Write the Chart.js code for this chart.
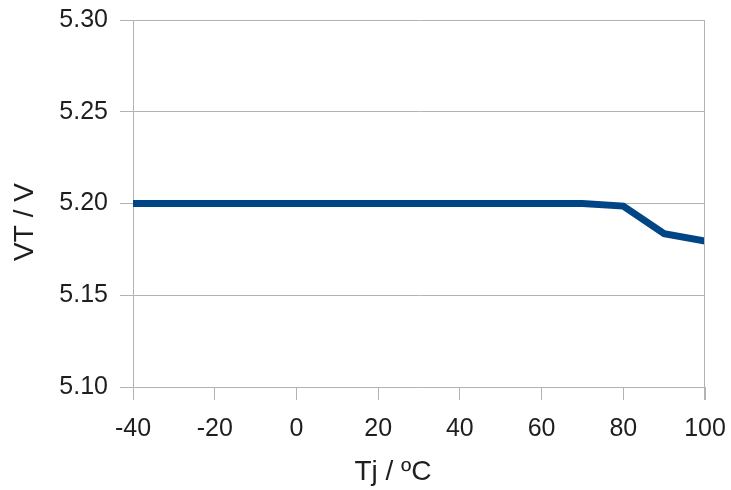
<!DOCTYPE html>
<html>
<head>
<meta charset="utf-8">
<script src="https://cdn.jsdelivr.net/npm/chart.js@4"></script>
<style>
  html, body { margin: 0; padding: 0; background: #fff; }
  #wrap { width: 731px; height: 490px; }
</style>
</head>
<body>
<div id="wrap"><canvas id="chart" width="731" height="490"></canvas></div>
<script>
// data
const tempC = [-40, -30, -20, -10, 0, 10, 20, 30, 40, 50, 60, 70, 80, 90, 100]
const vt = [5.20, 5.20, 5.20, 5.20, 5.20, 5.20, 5.20, 5.20, 5.20, 5.20, 5.20, 5.20, 5.1986, 5.1836, 5.1795]
const xTicks = [-40, -20, 0, 20, 40, 60, 80, 100]
const yTicks = [5.10, 5.15, 5.20, 5.25, 5.30]
const xTitle = 'Tj / ºC'
const yTitle = 'VT / V'

const gridColor = '#b3b3b3'
const textColor = '#1e1e1e'
const font = 'Liberation Sans, Arial, sans-serif'

new Chart(document.getElementById('chart'), {
    type: 'line',
    data: {
        datasets: [{
            data: tempC.map(function (t, i) { return { x: t, y: vt[i] } }),
            borderColor: '#004586',
            borderWidth: 7,
            pointRadius: 0,
            tension: 0,
            fill: false
        }]
    },
    options: {
        responsive: false,
        animation: false,
        layout: { padding: { top: 20, right: 26, left: 0, bottom: 0 } },
        plugins: { legend: { display: false }, tooltip: { enabled: false } },
        scales: {
            x: {
                type: 'linear',
                min: -40,
                max: 100,
                afterBuildTicks: function (axis) {
                    axis.ticks = xTicks.map(function (v) { return { value: v } })
                },
                afterFit: function (axis) {
                    axis.height = 103
                    axis.paddingLeft = 0
                    axis.paddingRight = 0
                },
                grid: { color: gridColor, tickLength: 13, drawOnChartArea: false, drawTicks: true },
                border: { color: gridColor, width: 1 },
                ticks: { color: textColor, font: { family: font, size: 25 }, padding: 14, maxRotation: 0 }
            },
            y: {
                min: 5.10,
                max: 5.30,
                afterBuildTicks: function (axis) {
                    axis.ticks = yTicks.map(function (v) { return { value: v } })
                },
                afterFit: function (axis) {
                    axis.width = 133
                    axis.paddingTop = 0
                    axis.paddingBottom = 0
                },
                grid: { color: gridColor, tickLength: 13 },
                border: { color: gridColor, width: 1 },
                ticks: {
                    color: textColor, font: { family: font, size: 25 }, padding: 12,
                    callback: function (v) { return v.toFixed(2) }
                }
            }
        }
    },
    plugins: [{
        // right frame line and the axis titles, placed as in the reference
        id: 'frameAndTitles',
        afterDraw: function (chart) {
            const ctx = chart.ctx, area = chart.chartArea
            ctx.save()
            ctx.strokeStyle = gridColor
            ctx.lineWidth = 1
            const rx = Math.round(area.right) - 0.5
            ctx.beginPath()
            ctx.moveTo(rx, area.top)
            ctx.lineTo(rx, area.bottom + 13)
            ctx.stroke()

            ctx.fillStyle = textColor
            ctx.font = '28px ' + font
            ctx.textAlign = 'center'
            ctx.textBaseline = 'middle'
            ctx.fillText(xTitle, 393, 472)
            ctx.translate(25, 222)
            ctx.rotate(-Math.PI / 2)
            ctx.fillText(yTitle, 0, 0)
            ctx.restore()
        }
    }]
})
</script>
</body>
</html>
